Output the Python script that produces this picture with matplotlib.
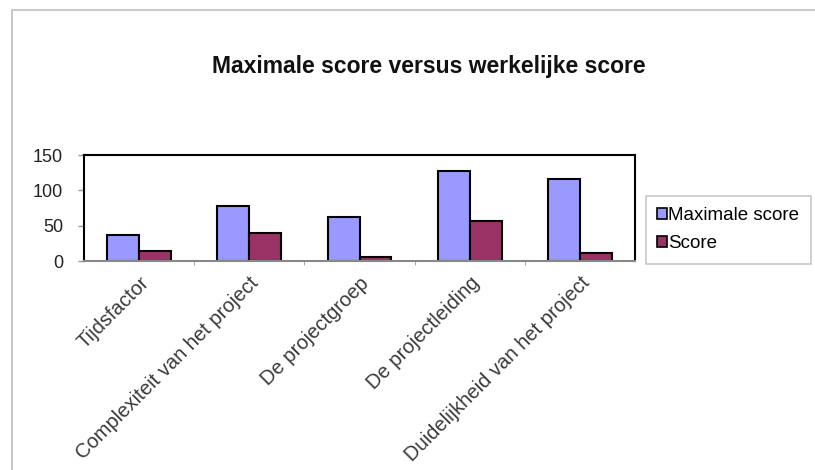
import numpy as np
import matplotlib.pyplot as plt
from matplotlib.patches import Rectangle, Patch

plt.rcParams['font.family'] = ['Liberation Sans', 'DejaVu Sans']

categories = ["Tijdsfactor", "Complexiteit van het project", "De projectgroep",
              "De projectleiding", "Duidelijkheid van het project"]
max_score = [37, 78, 62, 127, 116]
score = [14, 39, 6, 57, 11]
series_names = ["Maximale score", "Score"]
y_ticks = [0, 50, 100, 150]

BLUE, RED = "#9999FF", "#993366"

fig = plt.figure(figsize=(8.15, 4.70), dpi=100)
fig.patches.append(Rectangle((12 / 815, -0.1), 1.2, (470 - 10) / 470 + 0.1,
                             transform=fig.transFigure, fill=False,
                             edgecolor="#c8c8c8", linewidth=1.5))

ax = fig.add_axes([84 / 815, 1 - 261 / 470, (635 - 84) / 815, (261 - 155) / 470])
x = np.arange(len(categories))
w = 0.29
ax.bar(x - w / 2, max_score, w, color=BLUE, edgecolor="black", linewidth=1.5)
ax.bar(x + w / 2, score, w, color=RED, edgecolor="black", linewidth=1.5)

ax.set_xlim(-0.5, len(categories) - 0.5)
ax.set_ylim(0, 150)
ax.set_yticks(y_ticks)
ax.tick_params(axis="y", labelsize=13, length=4, width=1, color="#999999",
               labelcolor="#222222", pad=11)
ax.set_xticks(x)
ax.set_xticklabels(categories, rotation=45, ha="right", rotation_mode="anchor",
                   fontsize=14.5, color="#3a3a3a")
ax.tick_params(axis="x", length=0, pad=9)
ax.set_xticks(np.arange(0.5, len(categories) - 0.5), minor=True)
ax.tick_params(axis="x", which="minor", length=3, color="#999999")
for s in ["left", "top", "right"]:
    ax.spines[s].set_linewidth(1.5)
ax.spines["bottom"].set_color("#888888")
ax.spines["bottom"].set_linewidth(1.5)

fig.text(429 / 815, 1 - 67 / 470, "Maximale score versus werkelijke score",
         ha="center", va="center", fontsize=16.5, fontweight="bold", color="#111111")

handles = [Patch(facecolor=BLUE, edgecolor="black", linewidth=1.2),
           Patch(facecolor=RED, edgecolor="black", linewidth=1.2)]
leg = fig.legend(handles, series_names, loc="upper left",
                 bbox_to_anchor=(646 / 815, 1 - 196 / 470), fontsize=13.5,
                 frameon=True, fancybox=False, handlelength=0.5, handleheight=0.5,
                 handletextpad=0.1, labelspacing=0.6, borderpad=0.6,
                 borderaxespad=0)
leg.get_frame().set_edgecolor("#bbbbbb")
leg.get_frame().set_linewidth(1.2)

fig.savefig("out.png", dpi=100)
